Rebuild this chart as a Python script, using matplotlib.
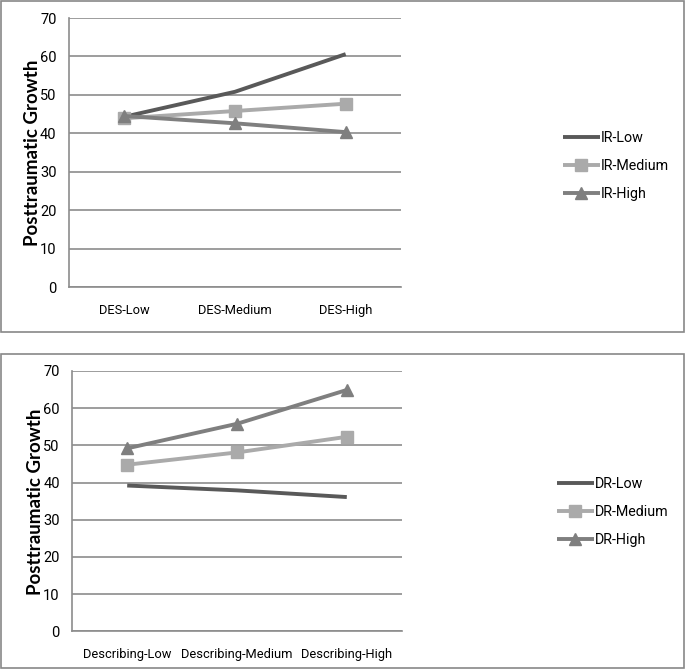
import matplotlib
matplotlib.use('Agg')
import matplotlib.pyplot as plt
from matplotlib.patches import Rectangle

plt.rcParams['font.family'] = ['Roboto', 'DejaVu Sans']

# Top panel data
des_levels = ['DES-Low', 'DES-Medium', 'DES-High']
ir_low = [44.3, 50.8, 60.6]
ir_medium = [43.9, 45.8, 47.7]
ir_high = [44.5, 42.6, 40.3]

# Bottom panel data
desc_levels = ['Describing-Low', 'Describing-Medium', 'Describing-High']
dr_low = [39.2, 37.9, 36.1]
dr_medium = [44.8, 48.1, 52.3]
dr_high = [49.2, 55.8, 64.9]

y_ticks = [0, 10, 20, 30, 40, 50, 60, 70]

c_low = '#595959'
c_med = '#aaaaaa'
c_high = '#7f7f7f'
grid_c = '#8c8c8c'

W, H = 685, 669
fig = plt.figure(figsize=(W / 100, H / 100), dpi=100)

# panel frames
for (x0, y0, x1, y1) in [(1, 1, 684, 332), (1, 354, 684, 668)]:
    fig.patches.append(Rectangle((x0 / W, 1 - y1 / H), (x1 - x0) / W, (y1 - y0) / H,
                                 transform=fig.transFigure, fill=False,
                                 edgecolor='#888888', linewidth=1.2))


def draw_panel(ax, cats, series, names, legend_anchor, ylab_pos):
    x = range(len(cats))
    styles = [dict(color=c_low, marker=None),
              dict(color=c_med, marker='s', markersize=8.5),
              dict(color=c_high, marker='^', markersize=9)]
    for vals, name, st in zip(series, names, styles):
        ax.plot(x, vals, linewidth=2.8, label=name, solid_capstyle='butt', **st)
    ax.set_xlim(-0.5, len(cats) - 0.5)
    ax.set_ylim(0, 70)
    ax.set_yticks(y_ticks)
    ax.set_xticks(list(x))
    ax.set_xticklabels(cats)
    ax.yaxis.grid(True, color=grid_c, linewidth=1.2)
    ax.set_axisbelow(True)
    for s in ['top', 'right']:
        ax.spines[s].set_visible(False)
    for s in ['left', 'bottom']:
        ax.spines[s].set_color(grid_c)
        ax.spines[s].set_linewidth(1.2)
    ax.tick_params(axis='both', length=0, labelsize=10.5, labelcolor='#000000')
    ax.tick_params(axis='x', labelsize=9.3)
    ax.tick_params(axis='y', pad=9)
    ax.tick_params(axis='x', pad=12)
    fig.text(ylab_pos[0], ylab_pos[1], 'Posttraumatic Growth', rotation=90,
             ha='center', va='center', fontsize=13.5, fontweight='bold',
             family=['Lato', 'DejaVu Sans'])
    ax.legend(loc='center left', bbox_to_anchor=legend_anchor,
              bbox_transform=fig.transFigure, frameon=False, fontsize=10.3,
              handlelength=2.6, handletextpad=0.05, labelspacing=1.0)


ax1 = fig.add_axes([69 / W, 1 - 287 / H, 332 / W, 269 / H])
draw_panel(ax1, des_levels, [ir_low, ir_medium, ir_high],
           ['IR-Low', 'IR-Medium', 'IR-High'], (550 / W, 1 - 166 / H),
           (33 / W, 1 - 153 / H))

ax2 = fig.add_axes([72.3 / W, 1 - 631.3 / H, 329.4 / W, 260.3 / H])
draw_panel(ax2, desc_levels, [dr_low, dr_medium, dr_high],
           ['DR-Low', 'DR-Medium', 'DR-High'], (544 / W, 1 - 512 / H),
           (36 / W, 1 - 502 / H))

fig.savefig('out.png', dpi=100)
